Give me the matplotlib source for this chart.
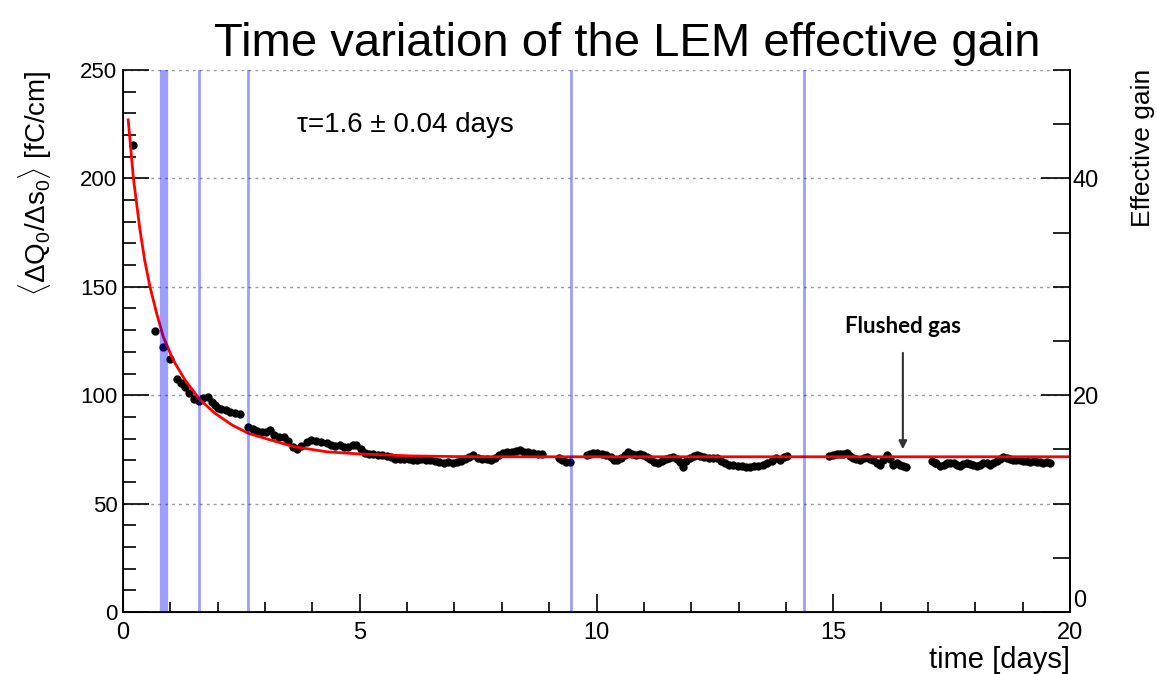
#!/usr/bin/env python3
# --------------------------------- imports ---------------------------------- #
import numpy as np
import matplotlib
matplotlib.use('Agg')
import matplotlib.pyplot as plt
from matplotlib.ticker import MultipleLocator, FixedLocator
# ---------------------------------------------------------------------------- #
plt.rcParams['font.family'] = ['Liberation Sans', 'DejaVu Sans']
plt.rcParams['mathtext.fontset'] = 'custom'
plt.rcParams['mathtext.rm'] = 'Liberation Sans'
plt.rcParams['mathtext.it'] = 'Liberation Sans'

# ----------------------------- measured points ------------------------------ #
t_days = [
    0.22, 0.68, 0.84, 0.99, 1.13, 1.22, 1.31, 1.40, 1.49, 1.60, 1.70, 1.80,
    1.87, 1.94, 2.01, 2.08, 2.17, 2.26, 2.36, 2.47, 2.65, 2.74, 2.83, 2.93,
    3.02, 3.10, 3.18, 3.29, 3.39, 3.48, 3.58, 3.67, 3.76, 3.88, 3.98, 4.08,
    4.19, 4.30, 4.39, 4.48, 4.58, 4.67, 4.76, 4.85, 4.93, 5.02, 5.11, 5.20,
    5.29, 5.38, 5.48, 5.57, 5.66, 5.75, 5.85, 5.94, 6.03, 6.12, 6.20, 6.30,
    6.39, 6.48, 6.58, 6.67, 6.77, 6.86, 6.96, 7.05, 7.14, 7.22, 7.31, 7.40,
    7.49, 7.58, 7.68, 7.77, 7.86, 7.95, 8.03, 8.12, 8.22, 8.31, 8.38, 8.47,
    8.56, 8.66, 8.76, 8.85,
    9.20, 9.28, 9.36, 9.44,
    9.80, 9.87, 9.93, 10.02, 10.12, 10.21, 10.30, 10.38, 10.43, 10.52, 10.60,
    10.67, 10.75, 10.83, 10.91, 10.98, 11.06, 11.14, 11.22, 11.30, 11.38,
    11.46, 11.54, 11.62, 11.70, 11.77, 11.83, 11.90, 11.97, 12.05, 12.12,
    12.19, 12.28, 12.37, 12.45, 12.54, 12.62, 12.71, 12.80, 12.89, 12.98,
    13.07, 13.15, 13.24, 13.33, 13.42, 13.52, 13.61, 13.70, 13.80, 13.88,
    13.95, 14.02,
    14.92, 15.00, 15.07, 15.14, 15.21, 15.28, 15.35, 15.42, 15.49, 15.56,
    15.64, 15.71, 15.78, 15.85, 15.92, 15.99, 16.06, 16.13, 16.20, 16.27,
    16.34, 16.41, 16.48, 16.54,
    17.08, 17.14, 17.18, 17.26, 17.33, 17.40, 17.47, 17.54, 17.61, 17.68,
    17.75, 17.82, 17.89, 17.96, 18.03, 18.10, 18.17, 18.24, 18.31, 18.38,
    18.45, 18.52, 18.59, 18.66, 18.73, 18.80, 18.87, 18.94, 19.01, 19.08,
    19.16, 19.23, 19.30, 19.37, 19.44, 19.51, 19.58,
]
charge = [
    215.4, 129.8, 122.4, 116.5, 107.3, 105.5, 103.9, 101.0, 98.1, 97.5, 98.5,
    99.0, 97.0, 95.5, 94.3, 93.5, 93.0, 92.4, 92.0, 91.3, 85.5, 84.5, 83.5,
    83.2, 83.0, 83.9, 81.5, 80.6, 80.6, 79.0, 76.0, 75.0, 76.5, 78.5, 79.3,
    78.8, 78.4, 78.1, 77.0, 76.5, 77.0, 76.3, 76.0, 76.8, 77.0, 75.0, 73.5,
    73.0, 72.9, 72.5, 72.2, 72.0, 71.3, 70.8, 70.4, 70.6, 70.5, 70.0, 70.1,
    70.8, 70.2, 70.0, 69.5, 69.2, 68.9, 69.0, 68.8, 69.3, 69.8, 70.5, 71.5,
    72.4, 71.0, 70.5, 70.4, 70.0, 71.2, 72.5, 73.5, 73.8, 74.0, 74.4, 74.7,
    74.0, 73.6, 73.3, 73.0, 72.8,
    71.0, 70.0, 69.3, 69.0,
    72.5, 73.0, 73.5, 73.2, 73.0, 72.4, 71.5, 70.3, 70.1, 71.0, 72.5, 73.9,
    73.0, 72.5, 72.8, 72.4, 71.5, 70.5, 69.2, 68.7, 69.5, 70.8, 71.2, 71.5,
    70.5, 69.0, 67.0, 69.5, 71.0, 71.8, 72.3, 72.0, 71.5, 71.0, 71.2, 70.9,
    69.8, 68.8, 68.0, 67.8, 67.5, 67.2, 67.0, 67.0, 67.5, 67.2, 67.8, 68.5,
    69.8, 70.9, 70.1, 71.5, 72.0,
    72.0, 72.4, 72.8, 73.0, 73.0, 73.2, 72.0, 71.0, 70.5, 70.1, 71.0, 71.5,
    70.8, 70.1, 68.8, 67.8, 70.0, 72.4, 70.5, 67.8, 68.5, 68.0, 67.3, 67.0,
    69.5, 68.8, 68.6, 67.5, 68.0, 68.6, 68.9, 68.6, 68.0, 67.5, 68.2, 68.8,
    68.3, 67.8, 67.5, 68.0, 68.5, 68.6, 67.8, 68.5, 69.5, 70.5, 71.6, 71.0,
    70.5, 70.0, 70.3, 70.1, 69.8, 69.5, 69.3, 69.5, 69.3, 69.0, 68.8, 69.2,
    68.9,
]

# ------------------------ fit curve ----------------------- #
fit_t = [0.11, 0.22, 0.36, 0.46, 0.57, 0.71, 0.85, 1.06, 1.31, 1.63, 1.94,
         2.30, 2.65, 3.00, 3.60, 4.30, 5.00, 6.06, 7.00, 8.00, 10.0, 14.0,
         18.0, 20.0]
fit_v = [227.0, 200.0, 176.0, 162.0, 150.0, 137.8, 127.0, 116.2, 107.0, 97.8,
         91.7, 86.3, 82.4, 80.1, 76.3, 73.9, 72.9, 72.0, 71.7, 71.6, 71.6,
         71.6, 71.6, 71.6]

# ---------------------------- run markers (days) ---------------------------- #
markers_t = [0.87, 1.61, 2.65, 9.46, 14.38]
markers_w = [6.0, 2.0, 2.0, 2.0, 2.0]

# ---------------------- create the figure and axes ---------------------- #
fig = plt.figure(figsize=(11.57, 6.74), dpi=100)
ax = fig.add_axes([123/1157, 62/674, 947/1157, 542/674])

ax.set_xlim(0, 20)
ax.set_ylim(0, 250)
ax.set_axisbelow(True)
ax.yaxis.grid(True, which='major', linestyle=(0, (2, 3)), color='#999999',
              lw=1)

ax.plot(t_days, charge, 'o', color='black', ms=5, zorder=3)
ax.plot(fit_t, fit_v, color='red', lw=2, zorder=4)
for x, w in zip(markers_t, markers_w):
    ax.axvline(x, color='blue', alpha=0.38, lw=w, zorder=5)

# --------------------------------- ticks ------------------------------------ #
ax.xaxis.set_major_locator(MultipleLocator(5))
ax.xaxis.set_minor_locator(MultipleLocator(1))
ax.yaxis.set_major_locator(MultipleLocator(50))
ax.yaxis.set_minor_locator(MultipleLocator(10))
ax.tick_params(axis='x', which='major', direction='in', length=13, width=1.2,
               labelsize=17, pad=7, top=False)
ax.tick_params(axis='x', which='minor', direction='in', length=7, width=1.2,
               top=False)
ax.tick_params(axis='y', which='major', direction='in', length=19, width=1.2,
               labelsize=16, pad=4, right=False)
ax.tick_params(axis='y', which='minor', direction='in', length=9, width=1.2,
               right=False)
ax.spines['top'].set_visible(False)
for s in ('left', 'bottom', 'right'):
    ax.spines[s].set_linewidth(1.3)

ax2 = ax.twinx()
ax2.set_ylim(0, 50)
ax2.yaxis.set_major_locator(FixedLocator([0, 20, 40]))
ax2.yaxis.set_minor_locator(MultipleLocator(5))
ax2.tick_params(axis='y', which='major', direction='in', length=21, width=1.2,
                labelsize=17, pad=2)
ax2.tick_params(axis='y', which='minor', direction='in', length=12, width=1.2)
ax2.spines['top'].set_visible(False)
ax2.spines['right'].set_linewidth(1.3)
# the right-hand "0" sits just above the x-axis "20"
ax2.yaxis.get_major_ticks()[0].label2.set_va('bottom')

# ---------------------------- titles & misc ----------------------------- #
fig.text(627/1157, 1 - 56/674, 'Time variation of the LEM effective gain',
         ha='center', va='baseline', fontsize=34)
fig.text(35/1157, 1 - 70/674,
         r'$\langle\Delta \mathrm{Q}_0/\Delta \mathrm{s}_0\rangle$ [fC/cm]',
         rotation=90, ha='center', va='top', fontsize=20)
fig.text(1143/1157, 1 - 69/674, 'Effective gain', rotation=90,
         ha='center', va='top', fontsize=19)
fig.text(1070/1157, 1 - 660/674, 'time [days]', ha='right', va='center',
         fontsize=21)

ax.text(3.67, 224.6, '\u03c4=1.6 \u00b1 0.04 days', ha='left', va='center',
        fontsize=20)
ax.annotate('', xy=(16.47, 73.8), xytext=(16.47, 120.8),
            arrowprops=dict(arrowstyle='-|>', color='#333333', lw=1.5,
                            mutation_scale=12))
ax.text(16.47, 131.9, 'Flushed gas', ha='center', va='center', fontsize=16,
        fontweight='bold', family=['Lato', 'DejaVu Sans'])

fig.savefig('out.png', dpi=100)
